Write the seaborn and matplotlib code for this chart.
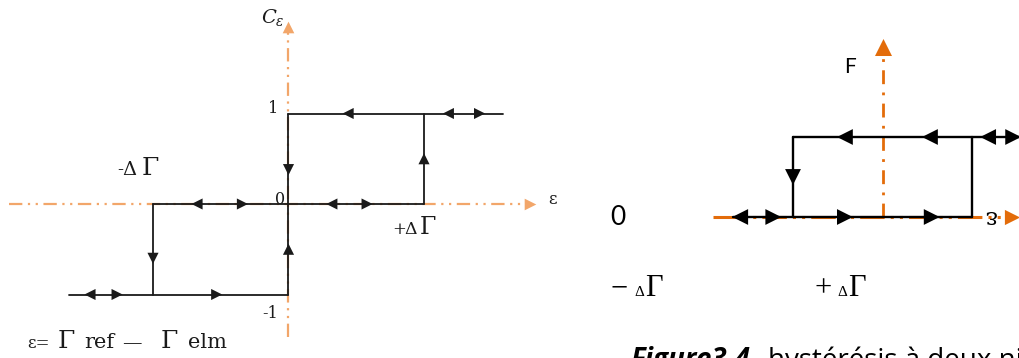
import numpy as np
import pandas as pd
import matplotlib
matplotlib.use("Agg")
import matplotlib.pyplot as plt
import seaborn as sns

W, H = 1019, 358
sns.set_theme(style="white")
plt.rcParams["font.family"] = ["DejaVu Sans"]
plt.rcParams["mathtext.fontset"] = "dejavuserif"

# ---------------- data: left panel (eps in units of dGamma, C_eps) ----------------
left_tick_labels = ["1", "0", "-1"]
left_seg_id = ["top", "top", "rise", "rise", "axis", "axis", "mid", "mid",
               "fall", "fall", "bot", "bot"]
left_seg_x = [0, 1.58, 1, 1, 0, 0, -1, 1, -1, -1, -1.62, 0]
left_seg_y = [1, 1, 0, 1, 1, -1, 0, 0, 0, -1, -1, -1]
left_arrow_x = [0.44, 1.18, 1.41, 1, 0, 0, -0.675, -0.34, 0.32, 0.58, -1, -1.465, -1.265, -0.53]
left_arrow_y = [1, 1, 1, 0.5, 0.38, -0.5, 0, 0, 0, 0, -0.6, -1, -1, -1]
left_arrow_dir = ["l", "l", "r", "u", "d", "u", "l", "r", "l", "r", "d", "l", "r", "r"]
left_axis_x = [-2.06, 1.78]
left_axis_y = [-1.47, 1.96]

# ---------------- data: right panel (eps in units of dGamma, F) ----------------
right_seg_id = ["top", "top", "left", "left", "right", "right", "bot", "bot"]
right_seg_x = [-1, 1.7, -1, -1, 1, 1, -1.67, 1]
right_seg_y = [1, 1, 1, 0, 0, 1, 0, 0]
right_arrow_x = [-1.59, -1.22, -0.42, 0.55, -0.42, 0.53, 1.18, 1.46, -1]
right_arrow_y = [0, 0, 0, 0, 1, 1, 1, 1, 0.5]
right_arrow_dir = ["l", "r", "r", "r", "l", "l", "l", "r", "d"]
right_axis_x = [-1.89, 1.45]
right_axis_y = [0, 2.12]

markers = {"l": "<", "r": ">", "u": "^", "d": "v"}
ORANGE_L = "#F2A66A"
ORANGE_R = "#E36C0A"
INK = "#1a1a1a"

fig = plt.figure(figsize=(W / 100, H / 100), dpi=100)
fig.patch.set_facecolor("white")


def panel_axes(x0, xs, y0, ys):
    ax = fig.add_axes([0, 0, 1, 1])
    ax.set_xlim((0 - x0) / xs, (W - x0) / xs)
    ax.set_ylim((y0 - H) / ys, y0 / ys)
    ax.set_axis_off()
    ax.patch.set_alpha(0)
    return ax


def ftext(x, y, s, **kw):
    fig.text(x / W, 1 - y / H, s, **kw)


def piece(x, base, s, size, family="DejaVu Serif", color=INK, **kw):
    ftext(x, base, s, ha="left", va="baseline", fontsize=size, family=family, color=color, **kw)


# ================= left panel =================
axL = panel_axes(288.5, 135.5, 204, 90.5)
dash_l = (0, (6, 2.5, 1, 2.5, 1, 2.5))
axL.plot(left_axis_x, [0, 0], color=ORANGE_L, lw=1.6, ls=dash_l, zorder=1)
axL.plot([0, 0], left_axis_y, color=ORANGE_L, lw=1.6, ls=dash_l, zorder=1)
axL.scatter([left_axis_x[1]], [0], marker=">", s=70, color=ORANGE_L, lw=0, zorder=1)
axL.scatter([0], [left_axis_y[1]], marker="^", s=70, color=ORANGE_L, lw=0, zorder=1)

dfL = pd.DataFrame({"seg": left_seg_id, "x": left_seg_x, "y": left_seg_y})
sns.lineplot(data=dfL, x="x", y="y", units="seg", estimator=None, sort=False,
             color=INK, lw=1.3, ax=axL, legend=False, zorder=3)
dfLA = pd.DataFrame({"x": left_arrow_x, "y": left_arrow_y, "d": left_arrow_dir})
sns.scatterplot(data=dfLA, x="x", y="y", style="d", markers=markers, s=64,
                color=INK, linewidth=0, ax=axL, legend=False, zorder=4)
axL.set_xlim((0 - 288.5) / 135.5, (W - 288.5) / 135.5)
axL.set_ylim((204 - H) / 90.5, 204 / 90.5)
axL.set_axis_off()

# tick labels 1 / 0 / -1
for (xp, yp), lab in zip([(278, 113), (285, 204), (278, 318)], left_tick_labels):
    ftext(xp, yp, lab, ha="right", va="baseline", fontsize=11.5, family="DejaVu Serif",
          color=INK, zorder=5)

ftext(273, 17, r"$C_{\varepsilon}$", ha="center", va="center", fontsize=14, color=INK)
# -ΔΓ
piece(117, 175, "-", 13)
piece(122, 175, "Δ", 14)
piece(142, 175, "Γ", 18)
# +ΔΓ
piece(392, 234, "+", 12)
piece(404, 234, "Δ", 12.5)
piece(420, 234, "Γ", 17)
ftext(548, 200, "ε", ha="left", va="center", fontsize=12, family="DejaVu Serif", color=INK)
# ε = Γref − Γelm
piece(27, 348, "ε=", 12)
piece(58, 348, "Γ", 18)
piece(84, 348, "ref", 15)
piece(122, 348, "—", 14)
piece(161, 348, "Γ", 18)
piece(188, 348, "elm", 15)

# ================= right panel =================
axR = panel_axes(882.5, 89.5, 217, 80)
axR.plot(right_axis_x, [0, 0], color=ORANGE_R, lw=2.2, ls=(0, (8, 2, 1, 2, 1, 2)), zorder=1)
axR.plot([0, 0], right_axis_y, color=ORANGE_R, lw=2.0, ls=(0, (5, 3, 1, 3)), zorder=1)
axR.scatter([right_axis_x[1]], [0], marker=">", s=120, color=ORANGE_R, lw=0, zorder=1)
axR.scatter([0], [right_axis_y[1]], marker="^", s=150, color=ORANGE_R, lw=0, zorder=1)

dfR = pd.DataFrame({"seg": right_seg_id, "x": right_seg_x, "y": right_seg_y})
sns.lineplot(data=dfR, x="x", y="y", units="seg", estimator=None, sort=False,
             color="black", lw=1.7, ax=axR, legend=False, zorder=3)
dfRA = pd.DataFrame({"x": right_arrow_x, "y": right_arrow_y, "d": right_arrow_dir})
sns.scatterplot(data=dfRA, x="x", y="y", style="d", markers=markers, s=130,
                color="black", linewidth=0, ax=axR, legend=False, zorder=4)
axR.set_xlim((0 - 882.5) / 89.5, (W - 882.5) / 89.5)
axR.set_ylim((217 - H) / 80, 217 / 80)
axR.set_axis_off()

ftext(850, 67, "F", ha="center", va="center", fontsize=15, family="Lato", color="black")
ftext(618, 217, "0", ha="center", va="center", fontsize=19, family="Lato", color="black")
ftext(990, 216, "ε", ha="center", va="center", fontsize=17, family="DejaVu Serif",
      rotation=180, color="black")

# -ΔΓ and +ΔΓ with a small Δ
for x0, sign in [(611, "−"), (814, "+")]:
    piece(x0, 296, sign, 22, family="Liberation Serif", color="black")
    piece(x0 + 23, 296, "Δ", 11, family="Liberation Serif", color="black")
    piece(x0 + 34, 296, "Γ", 22, family="Liberation Serif", color="black")

piece(630, 368, "Figure3.4.", 20, family="Open Sans", color="black", weight="bold", style="italic")
piece(768, 368, "hystérésis à deux niveaux", 20, family="Open Sans", color="black")

fig.savefig("out.png", dpi=100, facecolor="white")
